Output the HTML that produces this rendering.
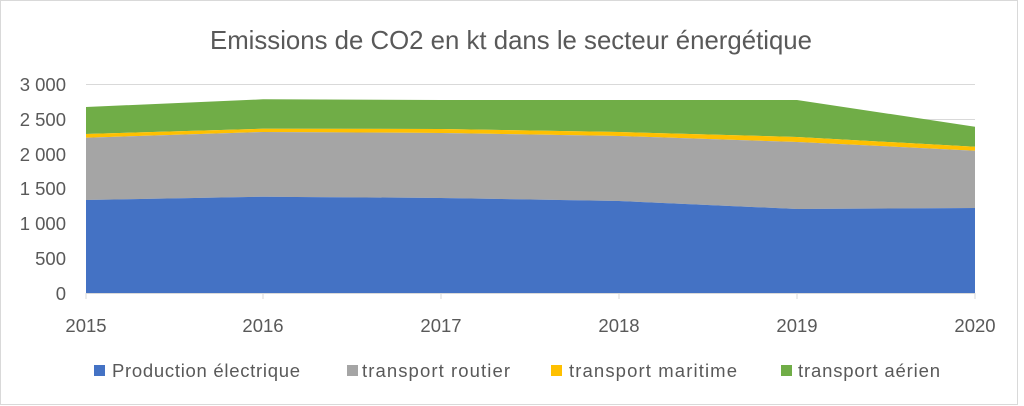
<!DOCTYPE html>
<html><head><meta charset="utf-8"><style>
body{margin:0;background:#fff;}
svg{display:block;font-family:"Liberation Sans",sans-serif;}
</style></head><body>
<svg width="1024" height="406" viewBox="0 0 1024 406">
<rect x="0.5" y="0.5" width="1017" height="404" fill="#fff" stroke="#d9d9d9"/>
<text x="511" y="49" text-anchor="middle" font-size="26" fill="#595959" textLength="602" lengthAdjust="spacingAndGlyphs">Emissions de CO2 en kt dans le secteur énergétique</text>
<g stroke="#d9d9d9" stroke-width="1">
<line x1="86" x2="975" y1="84.5" y2="84.5"/>
<line x1="86" x2="975" y1="119.5" y2="119.5"/>
<line x1="86" x2="975" y1="154.5" y2="154.5"/>
<line x1="86" x2="975" y1="189" y2="189"/>
<line x1="86" x2="975" y1="224" y2="224"/>
<line x1="86" x2="975" y1="258.5" y2="258.5"/>
</g>
<polygon fill="#70ad47" points="86,107 263,99.3 441,100 619,100 797,100 975,126.7 975,146.7 797,137 619,132 441,129 263,128.7 86,134"/>
<polygon fill="#ffc000" points="86,134 263,128.7 441,129 619,132 797,137 975,146.7 975,150.7 797,142 619,136 441,133 263,132 86,137.7"/>
<polygon fill="#a5a5a5" points="86,137.7 263,132 441,133 619,136 797,142 975,150.7 975,208 797,209 619,201 441,198 263,196.7 86,200"/>
<polygon fill="#4472c4" points="86,200 263,196.7 441,198 619,201 797,209 975,208 975,293 86,293"/>
<line x1="86" x2="975" y1="293.5" y2="293.5" stroke="#d9d9d9"/>
<g stroke="#d9d9d9"><line x1="86" x2="86" y1="293" y2="299"/><line x1="263" x2="263" y1="293" y2="299"/><line x1="441" x2="441" y1="293" y2="299"/><line x1="619" x2="619" y1="293" y2="299"/><line x1="797" x2="797" y1="293" y2="299"/><line x1="975" x2="975" y1="293" y2="299"/></g>
<g font-size="18.5" fill="#595959" text-anchor="end">
<text x="66" y="91">3 000</text><text x="66" y="126">2 500</text><text x="66" y="161">2 000</text>
<text x="66" y="195">1 500</text><text x="66" y="230">1 000</text><text x="66" y="265">500</text><text x="66" y="300">0</text>
</g>
<g font-size="18.5" fill="#595959" text-anchor="middle">
<text x="86" y="332">2015</text><text x="263" y="332">2016</text><text x="441" y="332">2017</text>
<text x="619" y="332">2018</text><text x="797" y="332">2019</text><text x="975" y="332">2020</text>
</g>
<g font-size="18.5" fill="#595959" lengthAdjust="spacingAndGlyphs">
<rect x="94" y="365" width="11" height="11" fill="#4472c4"/><text x="112" y="377" textLength="188">Production électrique</text>
<rect x="347" y="365" width="11" height="11" fill="#a5a5a5"/><text x="362" y="377" textLength="148">transport routier</text>
<rect x="551" y="365" width="11" height="11" fill="#ffc000"/><text x="569" y="377" textLength="168">transport maritime</text>
<rect x="781" y="365" width="11" height="11" fill="#70ad47"/><text x="798" y="377" textLength="142">transport aérien</text>
</g>
</svg>
</body></html>
